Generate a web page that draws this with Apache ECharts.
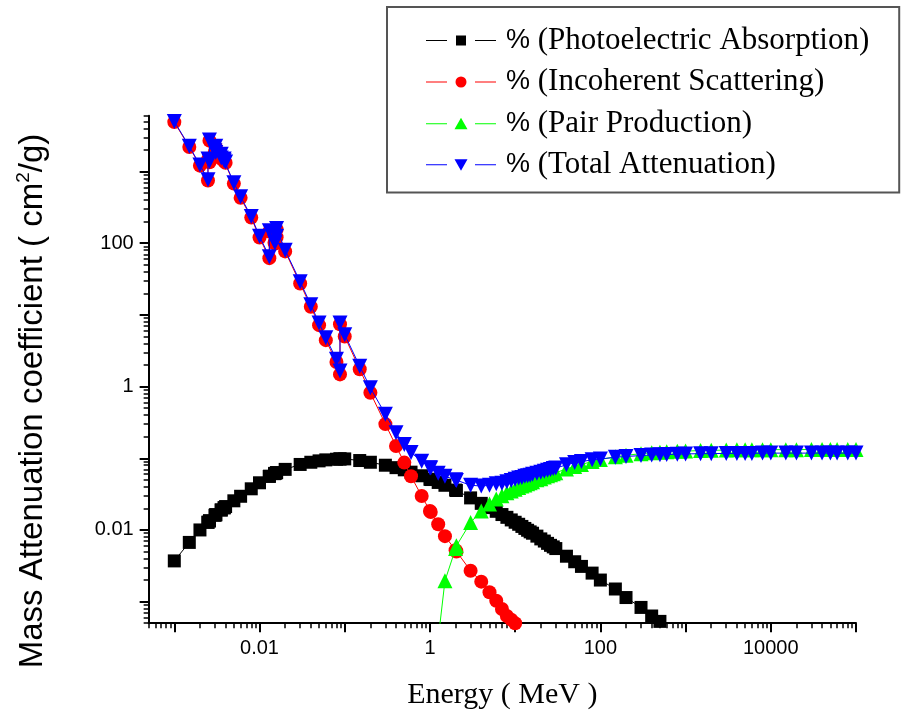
<!DOCTYPE html>
<html>
<head>
<meta charset="utf-8">
<script src="https://cdn.jsdelivr.net/npm/echarts@6/dist/echarts.min.js"></script>
<style>
html,body{margin:0;padding:0;background:#fff;}
#chart{width:901px;height:717px;}
</style>
</head>
<body>
<div id="chart"></div>
<script>
// Photon energy grid (MeV)
var energy = [
  0.001,0.0015,0.002,0.002484,0.002484,0.002586,0.002586,0.003,0.003066,0.003066,0.003554,0.003554,0.003851,0.003851,0.004,0.005,0.006,0.008,0.01,
  0.01304,0.01304,0.015,0.0152,0.0152,0.01586,0.01586,0.02,
  0.03,0.04,0.05,0.06,0.08,0.088,0.088,0.1,
  0.15,0.2,0.3,0.4,0.5,0.6,0.8,1,
  1.022,1.25,1.5,2,2.044,
  3,4,5,6,7,8,9,10,
  11,12,13,14,15,16,18,20,22,24,26,28,30,
  40,50,60,80,100,
  150,200,300,400,500,600,800,1000,
  1500,2000,3000,4000,5000,6000,8000,10000,
  15000,20000,30000,40000,50000,60000,80000,100000
];
// black squares
var photoelectric = [
  0.0037,0.0067,0.0100,0.0128,0.0128,0.0134,0.0134,0.0160,0.0163,0.0163,0.0190,0.0190,0.0204,0.0204,0.0212,0.0255,0.0295,0.0375,0.0455,
  0.056,0.056,0.061,0.0615,0.0615,0.063,0.063,0.070,
  0.082,0.088,0.092,0.095,0.097,0.098,0.098,0.098,
  0.093,0.088,0.080,0.074,0.069,0.064,0.057,0.051,
  0.0505,0.046,0.042,0.036,0.0355,
  0.028,0.0235,0.0205,0.0182,0.0164,0.0150,0.0138,0.0128,
  0.0120,0.0112,0.0105,0.0099,0.0094,0.0090,0.0082,0.0075,0.0070,0.0065,0.0061,0.0058,0.0055,
  0.0043,0.0036,0.0031,0.0025,0.0020,
  0.0015,0.00114,0.00083,0.00063,0.00053,0.00046,0.00036,null,
  null,null,null,null,null,null,null,null,
  null,null,null,null,null,null,null,null
];
// red circles
var incoherent = [
  4900,2200,1210,750,1470,1350,2700,1900,1810,2200,1510,1710,1390,1460,1330,680,430,228,120,
  62,146,102,99,136,121,156,77,
  27.5,13.0,7.2,4.45,2.2,1.48,7.4,5.0,
  1.75,0.82,0.30,0.148,0.087,0.056,0.0298,0.0184,
  0.0178,0.0120,0.0082,0.0052,0.0050,
  0.0027,0.0019,0.00135,0.00103,0.00079,0.00063,0.00056,0.00050,
  0.00045,0.00041,null,null,null,null,null,null,null,null,null,null,null,
  null,null,null,null,null,
  null,null,null,null,null,null,null,null,
  null,null,null,null,null,null,null,null,
  null,null,null,null,null,null,null,null
];
// green triangles
var pairProduction = [
  null,null,null,null,null,null,null,null,null,null,null,null,null,null,null,null,null,null,null,
  null,null,null,null,null,null,null,null,
  null,null,null,null,null,null,null,null,
  null,null,null,null,null,null,null,null,
  null,0.0003,0.00195,0.0055,0.006,
  0.0127,0.0184,0.023,0.027,0.030,0.033,0.035,0.037,
  0.039,0.041,0.0425,0.044,0.0455,0.047,0.050,0.052,0.055,0.057,0.059,0.061,0.063,
  0.071,0.077,0.082,0.090,0.096,
  0.105,0.110,0.116,0.119,0.121,0.123,0.125,0.126,
  0.128,0.129,0.130,0.131,0.131,0.131,0.132,0.132,
  0.132,0.132,0.133,0.133,0.133,0.133,0.133,0.133
];
// blue inverted triangles
var totalAttenuation = [
  5000,2250,1240,770,1500,1380,2750,1950,1850,2250,1550,1750,1420,1500,1360,700,445,236,125,
  65,150,105,102,140,125,160,80,
  29,13.9,7.7,4.8,2.4,1.65,7.7,5.3,
  1.92,0.96,0.41,0.227,0.156,0.12,0.091,0.074,
  0.073,0.062,0.056,0.050,0.049,
  0.042,0.041,0.042,0.044,0.045,0.047,0.049,0.051,
  0.053,0.054,0.056,0.057,0.058,0.060,0.062,0.064,0.066,0.068,0.070,0.072,0.073,
  0.081,0.087,0.090,0.095,0.098,
  0.103,0.106,0.109,0.111,0.112,0.113,0.114,0.115,
  0.116,0.116,0.117,0.117,0.117,0.117,0.118,0.118,
  0.118,0.118,0.118,0.118,0.118,0.118,0.118,0.118
];

var seriesNames = [
  '% (Photoelectric Absorption)',
  '% (Incoherent Scattering)',
  '% (Pair Production)',
  '% (Total Attenuation)'
];

// axis ticks / labels
var xLabelValues = [0.01, 1, 100, 10000];
var xMajorTicks = [0.001, 0.01, 0.1, 1, 10, 100, 1000, 10000, 100000];
var yLabelValues = [0.01, 1, 100];
var yMajorTicks = [0.001, 0.01, 0.1, 1, 10, 100, 1000];

function minorTicks(lo, hi) {
  var out = [];
  for (var d = -5; d <= 6; d++) {
    for (var k = 2; k <= 9; k++) {
      var v = Number((k * Math.pow(10, d)).toPrecision(6));
      if (v >= lo && v <= hi) out.push(v);
    }
  }
  return out;
}
var X_MIN = 0.0005, X_MAX = 100000, Y_MIN = 0.0005, Y_MAX = 6000;
var xMinorTicks = minorTicks(X_MIN, X_MAX);
var yMinorTicks = minorTicks(Y_MIN, Y_MAX);

function pairs(vals) {
  var out = [];
  for (var i = 0; i < energy.length; i++) {
    if (vals[i] !== null) out.push([energy[i], vals[i]]);
  }
  return out;
}
function fmt(v) { return String(Number(Number(v).toPrecision(4))); }

var SANS = "'Liberation Sans', Arial, sans-serif";
var SERIF = "'Liberation Serif', 'Times New Roman', serif";

var colors = ['#000000', '#ff0000', '#00ff00', '#0000ff'];
var symbols = ['rect', 'circle', 'triangle', 'triangle'];
var symbolSizes = [13, 14, 15, 15];
var rotates = [0, 0, 0, 180];
var valueSets = [photoelectric, incoherent, pairProduction, totalAttenuation];

var LINES = 'M0,6h21v1h-21z M49,6h21v1h-21z ';
var legendIcons = [
  'path://' + LINES + 'M30,1.5h10v10h-10z',
  'path://' + LINES + 'M29.5,6.5a5.5,5.5 0 1,0 11,0a5.5,5.5 0 1,0 -11,0z',
  'path://' + LINES + 'M35,0.5L41.5,12L28.5,12z',
  'path://' + LINES + 'M28.5,1L41.5,1L35,12.5z'
];

var series = seriesNames.map(function (n, i) {
  return {
    name: n,
    type: 'line',
    xAxisIndex: 0,
    yAxisIndex: 0,
    data: pairs(valueSets[i]),
    symbol: symbols[i],
    symbolSize: symbolSizes[i],
    symbolRotate: rotates[i],
    showAllSymbol: true,
    clip: true,
    color: colors[i],
    itemStyle: { color: colors[i], borderWidth: 0 },
    lineStyle: { color: colors[i], width: 1 },
    emphasis: { disabled: true },
    z: 2 + i
  };
});

function makeAxisPair(isX, min, max, majorTicks, labelVals, minor) {
  var main = {
    type: 'log',
    logBase: 10,
    min: min,
    max: max,
    position: isX ? 'bottom' : 'left',
    axisLine: { show: true, onZero: false, lineStyle: { color: '#000', width: 2 } },
    axisTick: { show: true, inside: false, length: 9, customValues: majorTicks, lineStyle: { color: '#000', width: 2 } },
    axisLabel: { show: true, customValues: labelVals, formatter: fmt, fontFamily: SANS, fontSize: 20, color: '#000', margin: 15 },
    splitLine: { show: false },
    minorTick: { show: false },
    minorSplitLine: { show: false }
  };
  var sub = {
    type: 'log',
    logBase: 10,
    min: min,
    max: max,
    position: isX ? 'bottom' : 'left',
    axisLine: { show: false, onZero: false },
    axisTick: { show: true, inside: false, length: 5, customValues: minor, lineStyle: { color: '#000', width: 1.5 } },
    axisLabel: { show: false },
    splitLine: { show: false },
    minorTick: { show: false }
  };
  return [main, sub];
}

var xAxes = makeAxisPair(true, X_MIN, X_MAX, xMajorTicks, xLabelValues, xMinorTicks);
xAxes[0].name = 'Energy ( MeV )';
xAxes[0].nameLocation = 'middle';
xAxes[0].nameGap = 57;
xAxes[0].nameTextStyle = { fontFamily: SERIF, fontSize: 30, color: '#000' };

var yAxes = makeAxisPair(false, Y_MIN, Y_MAX, yMajorTicks, yLabelValues, yMinorTicks);
yAxes[0].name = 'Mass Attenuation coefficient ( cm{sup|2}/g)';
yAxes[0].nameLocation = 'middle';
yAxes[0].nameGap = 98;
yAxes[0].nameRotate = 90;
yAxes[0].nameTextStyle = {
  fontFamily: SANS, fontSize: 33, color: '#000', lineHeight: 36,
  padding: [0, 63, 0, 0],
  rich: { sup: { fontFamily: SANS, fontSize: 19, color: '#000', verticalAlign: 'top', lineHeight: 36 } }
};

var chart = echarts.init(document.getElementById('chart'), null, { renderer: 'canvas' });
chart.setOption({
  animation: false,
  backgroundColor: '#ffffff',
  grid: { left: 148.65, right: 45, top: 115.8, bottom: 93.8, containLabel: false, outerBoundsMode: 'none' },
  legend: {
    show: true,
    orient: 'vertical',
    left: 387,
    top: 7,
    padding: [18, 30, 12, 39],
    itemGap: 10.5,
    itemWidth: 70,
    itemHeight: 13,
    selectedMode: false,
    backgroundColor: '#ffffff',
    borderColor: '#555555',
    borderWidth: 2,
    borderRadius: 0,
    itemStyle: { borderWidth: 0 },
    data: seriesNames.map(function (n, i) { return { name: n, icon: legendIcons[i] }; }),
    formatter: function (name) {
      return '{p|%}{t| ' + name.slice(2) + '}';
    },
    textStyle: {
      color: '#000',
      rich: {
        p: { fontFamily: SANS, fontSize: 27, color: '#000', padding: [0, 0, 0, 5] },
        t: { fontFamily: SERIF, fontSize: 31, color: '#000' }
      }
    }
  },
  xAxis: xAxes,
  yAxis: yAxes,
  series: series
});
</script>
</body>
</html>
